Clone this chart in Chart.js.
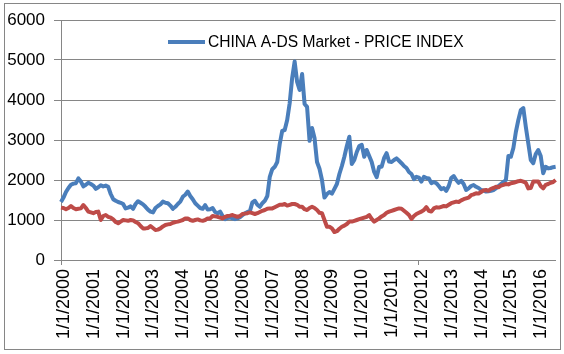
<!DOCTYPE html>
<html>
<head>
<meta charset="utf-8">
<script src="https://cdn.jsdelivr.net/npm/chart.js@4.4.1/dist/chart.umd.min.js"></script>
<style>
    html, body { margin: 0; padding: 0; background: #fff; }
</style>
</head>
<body>
<canvas id="priceChart" width="564" height="354"></canvas>
<script>
// monthly series, Jan 2000 .. Aug 2016
const startYear = 2000;
const seriesName = 'CHINA A-DS Market - PRICE INDEX';
const yTicks = [0, 1000, 2000, 3000, 4000, 5000, 6000];

const chinaIndex = [
    1450, 1560, 1700, 1800, 1880, 1910, 1920, 2040, 1960, 1840, 1880, 1930, // 2000
    1900, 1860, 1780, 1820, 1870, 1840, 1860, 1830, 1650, 1520, 1480, 1450, // 2001
    1430, 1400, 1290, 1310, 1340, 1280, 1400, 1470, 1430, 1390, 1330, 1260, // 2002
    1210, 1190, 1300, 1350, 1390, 1460, 1430, 1420, 1360, 1280, 1330, 1400, // 2003
    1460, 1580, 1630, 1710, 1600, 1520, 1420, 1360, 1300, 1280, 1370, 1260, // 2004
    1270, 1300, 1200, 1170, 1210, 1100, 1020, 1050, 1060, 1040, 1020, 1040, // 2005
    1070, 1120, 1170, 1200, 1220, 1440, 1480, 1380, 1330, 1420, 1480, 1600, // 2006
    2080, 2270, 2330, 2450, 2900, 3230, 3250, 3500, 3920, 4550, 4960, 4450, // 2007
    4250, 4650, 3900, 3830, 2980, 3300, 3050, 2450, 2280, 2000, 1560, 1650, // 2008
    1700, 1660, 1780, 1900, 2150, 2350, 2580, 2850, 3080, 2400, 2500, 2700, // 2009
    2850, 2880, 2580, 2750, 2600, 2450, 2200, 2070, 2330, 2330, 2550, 2670, // 2010
    2460, 2450, 2500, 2540, 2480, 2420, 2350, 2300, 2200, 2150, 2020, 2080, // 2011
    2060, 1960, 2080, 2050, 2040, 1920, 1950, 1920, 1850, 1770, 1800, 1730, // 2012
    1850, 2050, 2100, 2000, 1930, 1980, 1900, 1750, 1790, 1850, 1875, 1830, // 2013
    1800, 1750, 1740, 1710, 1720, 1730, 1750, 1790, 1850, 1900, 1950, 2000, // 2014
    2600, 2580, 2800, 3200, 3500, 3750, 3800, 3330, 2920, 2500, 2420, 2650, // 2015
    2750, 2600, 2170, 2330, 2290, 2300, 2320, 2330                          // 2016
];

const worldIndex = [
    1310, 1300, 1270, 1300, 1350, 1300, 1270, 1280, 1290, 1375, 1300, 1210,
    1190, 1170, 1200, 1210, 1000, 1100, 1125, 1080, 1060, 1015, 950, 920,
    960, 1000, 990, 980, 1000, 990, 950, 920, 850, 790, 790, 800,
    850, 800, 750, 760, 790, 840, 875, 890, 900, 930, 950, 960,
    980, 1000, 1040, 1040, 1000, 980, 1000, 1015, 990, 980, 1000, 1040,
    1040, 1100, 1090, 1080, 1060, 1040, 1080, 1100, 1110, 1125, 1100, 1080,
    1100, 1150, 1160, 1170, 1190, 1170, 1150, 1170, 1200, 1230, 1250, 1280,
    1290, 1290, 1320, 1350, 1380, 1380, 1400, 1360, 1380, 1400, 1400, 1380,
    1330, 1330, 1270, 1250, 1300, 1330, 1300, 1250, 1180, 1170, 1000, 830,
    830, 790, 700, 720, 780, 830, 860, 900, 960, 960, 980, 1000,
    1020, 1040, 1060, 1080, 1125, 1030, 960, 1000, 1040, 1090, 1125, 1180,
    1210, 1230, 1250, 1270, 1290, 1280, 1230, 1180, 1125, 1025, 1100, 1150,
    1180, 1210, 1250, 1320, 1230, 1210, 1290, 1320, 1310, 1330, 1350, 1340,
    1380, 1420, 1440, 1460, 1450, 1490, 1520, 1540, 1560, 1620, 1640, 1670,
    1660, 1700, 1740, 1750, 1730, 1780, 1800, 1830, 1820, 1860, 1880, 1900,
    1890, 1920, 1930, 1950, 1970, 1980, 1960, 1930, 1790, 1800, 1960, 1960,
    1960, 1850, 1790, 1880, 1900, 1930, 1950, 2000
];

const monthLabels = chinaIndex.map((_, i) => ((i % 12) + 1) + '/1/' + (startYear + Math.floor(i / 12)));

const BLUE = '#4A7EBB';
const RED = '#BE4B48';
const GRID = '#868686';
const FONT = 'Liberation Sans, Arial, sans-serif';

// outer chart frame
const frameBorder = {
    id: 'frameBorder',
    afterDraw(chart) {
        const ctx = chart.ctx;
        ctx.save();
        ctx.strokeStyle = GRID;
        ctx.lineWidth = 1;
        ctx.strokeRect(4.5, 3.5, chart.width - 8, chart.height - 8);
        ctx.restore();
    }
};

// legend entry sits inside the plot, like the Excel one
const innerLegend = {
    id: 'innerLegend',
    afterDatasetsDraw(chart) {
        const { ctx, chartArea } = chart;
        const ds = chart.data.datasets[0];
        const y = chartArea.top + 22;
        const x0 = chartArea.left + 107;
        ctx.save();
        ctx.strokeStyle = ds.borderColor;
        ctx.lineWidth = 4;
        ctx.beginPath();
        ctx.moveTo(x0, y);
        ctx.lineTo(x0 + 37, y);
        ctx.stroke();
        ctx.fillStyle = '#000';
        ctx.font = '15.6px ' + FONT;
        ctx.textBaseline = 'middle';
        ctx.textAlign = 'left';
        ctx.fillText(ds.label, x0 + 40, y + 1);
        ctx.restore();
    }
};

new Chart(document.getElementById('priceChart').getContext('2d'), {
    type: 'line',
    data: {
        labels: monthLabels,
        datasets: [
            {
                label: seriesName,
                data: chinaIndex,
                borderColor: BLUE,
                backgroundColor: BLUE,
                borderWidth: 4,
                pointRadius: 0,
                tension: 0,
                borderJoinStyle: 'round',
                order: 2
            },
            {
                label: '',
                data: worldIndex,
                borderColor: RED,
                backgroundColor: RED,
                borderWidth: 4,
                pointRadius: 0,
                tension: 0,
                borderJoinStyle: 'round',
                order: 1
            }
        ]
    },
    options: {
        responsive: false,
        animation: false,
        layout: { padding: { top: 20, right: 5, left: 0, bottom: 0 } },
        plugins: {
            tooltip: { enabled: false },
            legend: { display: false }
        },
        scales: {
            x: {
                type: 'category',
                offset: false,
                border: { color: GRID },
                grid: {
                    drawOnChartArea: false,
                    tickLength: 5,
                    color: (c) => (c.index % 12 === 0 ? GRID : 'rgba(0,0,0,0)')
                },
                ticks: {
                    autoSkip: false,
                    minRotation: 90,
                    maxRotation: 90,
                    padding: 4,
                    labelOffset: 3,
                    color: '#000',
                    font: { family: FONT, size: 18 },
                    callback: function (v, i) {
                        return i % 12 === 0 ? this.getLabelForValue(v) : null;
                    }
                },
                afterFit: (s) => { s.height = 94; }
            },
            y: {
                min: yTicks[0],
                max: yTicks[yTicks.length - 1],
                border: { color: GRID },
                grid: { color: GRID, tickLength: 7 },
                ticks: {
                    stepSize: yTicks[1] - yTicks[0],
                    padding: 9,
                    color: '#000',
                    font: { family: FONT, size: 17 },
                    callback: (v) => String(v)
                },
                afterFit: (s) => { s.width = 61; }
            }
        }
    },
    plugins: [frameBorder, innerLegend]
});
</script>
</body>
</html>
